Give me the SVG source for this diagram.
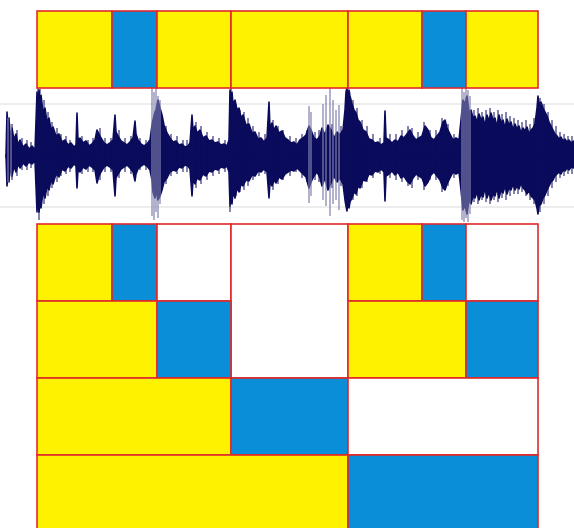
<svg xmlns="http://www.w3.org/2000/svg" width="574" height="528" viewBox="0 0 574 528">
<style>
.y{fill:#fff200;stroke:#e0282a;stroke-width:1.6}
.b{fill:#0a8ed8;stroke:#e0282a;stroke-width:1.6}
.w{fill:#ffffff;stroke:#e0282a;stroke-width:1.6}
.guide{stroke:#dcdcdc;stroke-width:1.2}
.wave{fill:#0b0b5c;stroke:#0b0b5c;stroke-width:1.6;stroke-linejoin:round}
.spk{stroke:#0b0b5c;stroke-width:1;fill:none}
.lt{stroke:#8080ad;stroke-width:1.2;fill:none}
</style>
<rect width="574" height="528" fill="#ffffff"/>
<g id="waveform">
<line class="guide" x1="0" y1="104" x2="574" y2="104"/>
<line class="guide" x1="0" y1="207" x2="574" y2="207"/>
<path class="wave" d="M6,156 L7,112 8,130 9,118 10,138 12,128 14,140 16,134 18,145 20,140 23,147 26,144 29,149 32,146 35,150 37,92 38,110 39,90 40,105 41,95 43,112 45,108 47,122 49,118 51,130 53,127 56,136 59,134 62,142 65,140 68,145 71,143 74,147 76,145 77,113 78,140 80,138 83,143 86,141 89,146 92,144 95,140 97,130 99,134 101,138 104,143 107,145 110,143 113,140 115,115 116,132 118,136 121,141 124,143 127,145 130,142 133,138 135,121 136,134 138,140 141,144 144,146 147,144 150,140 152,125 153,120 155,112 156,110 158,100 160,108 162,115 164,125 167,133 170,138 173,142 176,141 179,145 182,144 185,147 188,146 190,143 192,115 193,130 195,126 197,133 200,130 203,138 206,136 209,141 212,140 215,143 218,142 221,145 224,144 227,146 229,140 230,90 231,100 232,92 233,104 235,100 237,110 239,108 241,118 243,115 246,125 249,124 252,133 255,132 258,139 261,138 264,142 267,138 269,102 270,128 272,123 274,130 276,126 279,133 282,131 285,138 288,140 291,143 294,142 297,145 300,140 303,138 306,135 309,126 311,130 314,138 317,140 320,136 322,128 325,135 328,125 331,130 334,138 337,132 340,135 343,130 345,110 346,92 347,88 348,100 349,90 350,96 352,104 354,110 356,113 358,120 360,122 363,130 366,132 369,139 372,140 375,143 378,142 381,145 384,143 385,111 386,138 389,140 392,143 395,140 398,142 401,136 404,138 407,134 410,130 413,136 416,140 419,138 422,136 425,126 428,130 431,138 434,140 437,136 440,132 443,122 445,120 447,128 450,134 453,140 456,138 459,140 461,120 463,100 465,104 467,96 469,112 471,110 473,118 475,116 477,122 479,114 481,120 483,117 485,126 487,115 489,121 491,113 493,120 495,118 497,127 499,115 501,123 503,120 505,128 507,119 509,125 511,122 513,130 515,124 517,129 519,126 521,133 523,128 525,131 527,127 529,134 531,130 533,128 535,124 537,108 538,96 539,104 541,102 543,108 545,112 547,116 549,122 551,126 553,130 555,134 557,136 559,139 561,137 563,141 565,139 567,142 569,140 571,143 574,141 574,157 6,157 Z"/>
<path class="wave" d="M6,155 L7,186 8,170 9,182 10,166 12,176 14,166 16,172 18,164 20,168 23,163 26,166 29,162 32,164 35,161 37,212 38,195 39,213 40,200 41,208 43,192 45,198 47,186 49,190 51,180 53,184 56,174 59,177 62,169 65,171 68,166 71,168 74,164 76,166 77,188 78,170 80,172 83,167 86,169 89,165 92,167 95,170 97,183 99,176 101,172 104,167 107,165 110,167 113,170 115,196 116,178 118,174 121,169 124,167 127,165 130,168 133,172 135,181 136,174 138,169 141,166 144,164 147,166 150,170 152,180 153,192 155,198 156,190 158,200 160,196 162,190 164,182 167,178 170,172 173,170 176,171 179,167 182,168 185,165 188,166 190,169 192,196 193,180 195,184 197,178 200,180 203,174 206,176 209,171 212,172 215,169 218,170 221,167 224,168 227,166 229,172 230,206 231,196 232,204 233,192 235,198 237,188 239,192 241,184 243,186 246,180 249,181 252,175 255,176 258,171 261,172 264,169 267,172 269,198 270,182 272,186 274,180 276,183 279,177 282,179 285,174 288,172 291,170 294,171 297,168 300,171 303,174 306,177 309,188 311,182 314,176 317,172 320,178 322,186 325,178 328,190 331,183 334,176 337,182 340,178 343,184 345,200 346,206 347,211 348,200 349,208 350,202 352,198 354,192 356,194 358,186 360,188 363,180 366,181 369,174 372,175 375,171 378,172 381,169 384,172 385,201 386,176 389,174 392,171 395,175 398,172 401,178 404,176 407,181 410,184 413,178 416,174 419,176 422,178 425,186 428,182 431,175 434,172 437,176 440,180 443,188 445,190 447,184 450,178 453,172 456,174 459,172 461,190 463,210 465,205 467,214 469,200 471,204 473,196 475,198 477,192 479,200 481,194 483,197 485,188 487,198 489,192 491,200 493,194 495,196 497,188 499,198 501,190 503,193 505,186 507,194 509,188 511,190 513,184 515,190 517,186 519,189 521,183 523,188 525,190 527,194 529,190 531,196 533,198 535,200 537,208 538,214 539,206 541,204 543,198 545,195 547,190 549,186 551,182 553,180 555,176 557,174 559,172 561,174 563,170 565,171 567,168 569,170 571,167 574,168 574,155 6,155 Z"/>
<path class="spk" d="M38,88V96 M40,89V94 M231,88V95 M347,88V92 M39,214V220 M230,206V212 M12,124V180 M17,130V176 M22,138V170 M27,140V170 M31,142V168 M44,100V204 M48,112V196 M52,122V188 M57,128V182 M61,134V176 M66,136V174 M70,140V172 M82,136V174 M88,140V172 M93,138V172 M100,128V180 M105,138V172 M111,138V172 M119,130V178 M125,138V172 M131,136V174 M140,138V170 M146,140V170 M166,126V184 M171,134V176 M177,136V174 M183,140V172 M187,140V172 M196,122V188 M201,126V184 M207,132V180 M213,136V176 M219,138V174 M225,140V172 M236,104V196 M240,110V192 M244,112V190 M248,118V186 M253,126V180 M259,132V176 M265,134V174 M273,120V190 M278,126V184 M283,130V180 M290,136V176 M296,138V172 M302,134V178 M307,130V182 M315,132V180 M319,130V182 M332,124V188 M341,126V186 M353,100V200 M357,108V196 M362,120V188 M367,126V182 M373,134V178 M380,138V174 M390,134V178 M396,134V180 M402,130V182 M408,126V186 M412,128V188 M418,132V180 M424,122V190 M430,130V180 M436,130V180 M442,118V192 M448,124V186 M454,134V178 M474,110V202 M478,108V204 M482,112V200 M486,110V202 M490,108V204 M494,112V200 M498,110V202 M502,114V198 M506,112V200 M510,116V196 M514,118V194 M518,120V194 M522,122V192 M526,120V196 M530,124V200 M534,118V204 M540,98V212 M544,104V204 M548,112V196 M552,120V188 M556,126V182 M560,132V178 M564,134V176 M568,136V174 M572,136V174"/>
<path class="lt" d="M8,118V182 M11,124V176 M152,88V216 M154,92V220 M156,88V212 M158,96V218 M160,100V204 M309,106V203 M311,112V196 M323,104V200 M326,95V206 M330,88V216 M333,100V204 M336,110V200 M339,105V210 M462,88V220 M464,92V222 M466,88V218 M468,90V222 M470,96V214"/>
</g>
<g id="top-row">
<g id="t1"><rect class="y" x="37" y="11" width="75" height="77"/></g>
<g id="t2"><rect class="b" x="112" y="11" width="45" height="77"/></g>
<g id="t3"><rect class="y" x="157" y="11" width="74" height="77"/></g>
<g id="t4"><rect class="y" x="231" y="11" width="117" height="77"/></g>
<g id="t5"><rect class="y" x="348" y="11" width="74" height="77"/></g>
<g id="t6"><rect class="b" x="422" y="11" width="44" height="77"/></g>
<g id="t7"><rect class="y" x="466" y="11" width="72" height="77"/></g>
</g>
<g id="grid">
<g id="r1c1"><rect class="y" x="37" y="224" width="75" height="77"/></g>
<g id="r1c2"><rect class="b" x="112" y="224" width="45" height="77"/></g>
<g id="r1c3"><rect class="w" x="157" y="224" width="74" height="77"/></g>
<g id="r12c4"><rect class="w" x="231" y="224" width="117" height="154"/></g>
<g id="r1c5"><rect class="y" x="348" y="224" width="74" height="77"/></g>
<g id="r1c6"><rect class="b" x="422" y="224" width="44" height="77"/></g>
<g id="r1c7"><rect class="w" x="466" y="224" width="72" height="77"/></g>
<g id="r2c1"><rect class="y" x="37" y="301" width="120" height="77"/></g>
<g id="r2c2"><rect class="b" x="157" y="301" width="74" height="77"/></g>
<g id="r2c5"><rect class="y" x="348" y="301" width="118" height="77"/></g>
<g id="r2c6"><rect class="b" x="466" y="301" width="72" height="77"/></g>
<g id="r3c1"><rect class="y" x="37" y="378" width="194" height="77"/></g>
<g id="r3c2"><rect class="b" x="231" y="378" width="117" height="77"/></g>
<g id="r3c3"><rect class="w" x="348" y="378" width="190" height="77"/></g>
<g id="r4c1"><rect class="y" x="37" y="455" width="311" height="80"/></g>
<g id="r4c2"><rect class="b" x="348" y="455" width="190" height="80"/></g>
</g>
</svg>
